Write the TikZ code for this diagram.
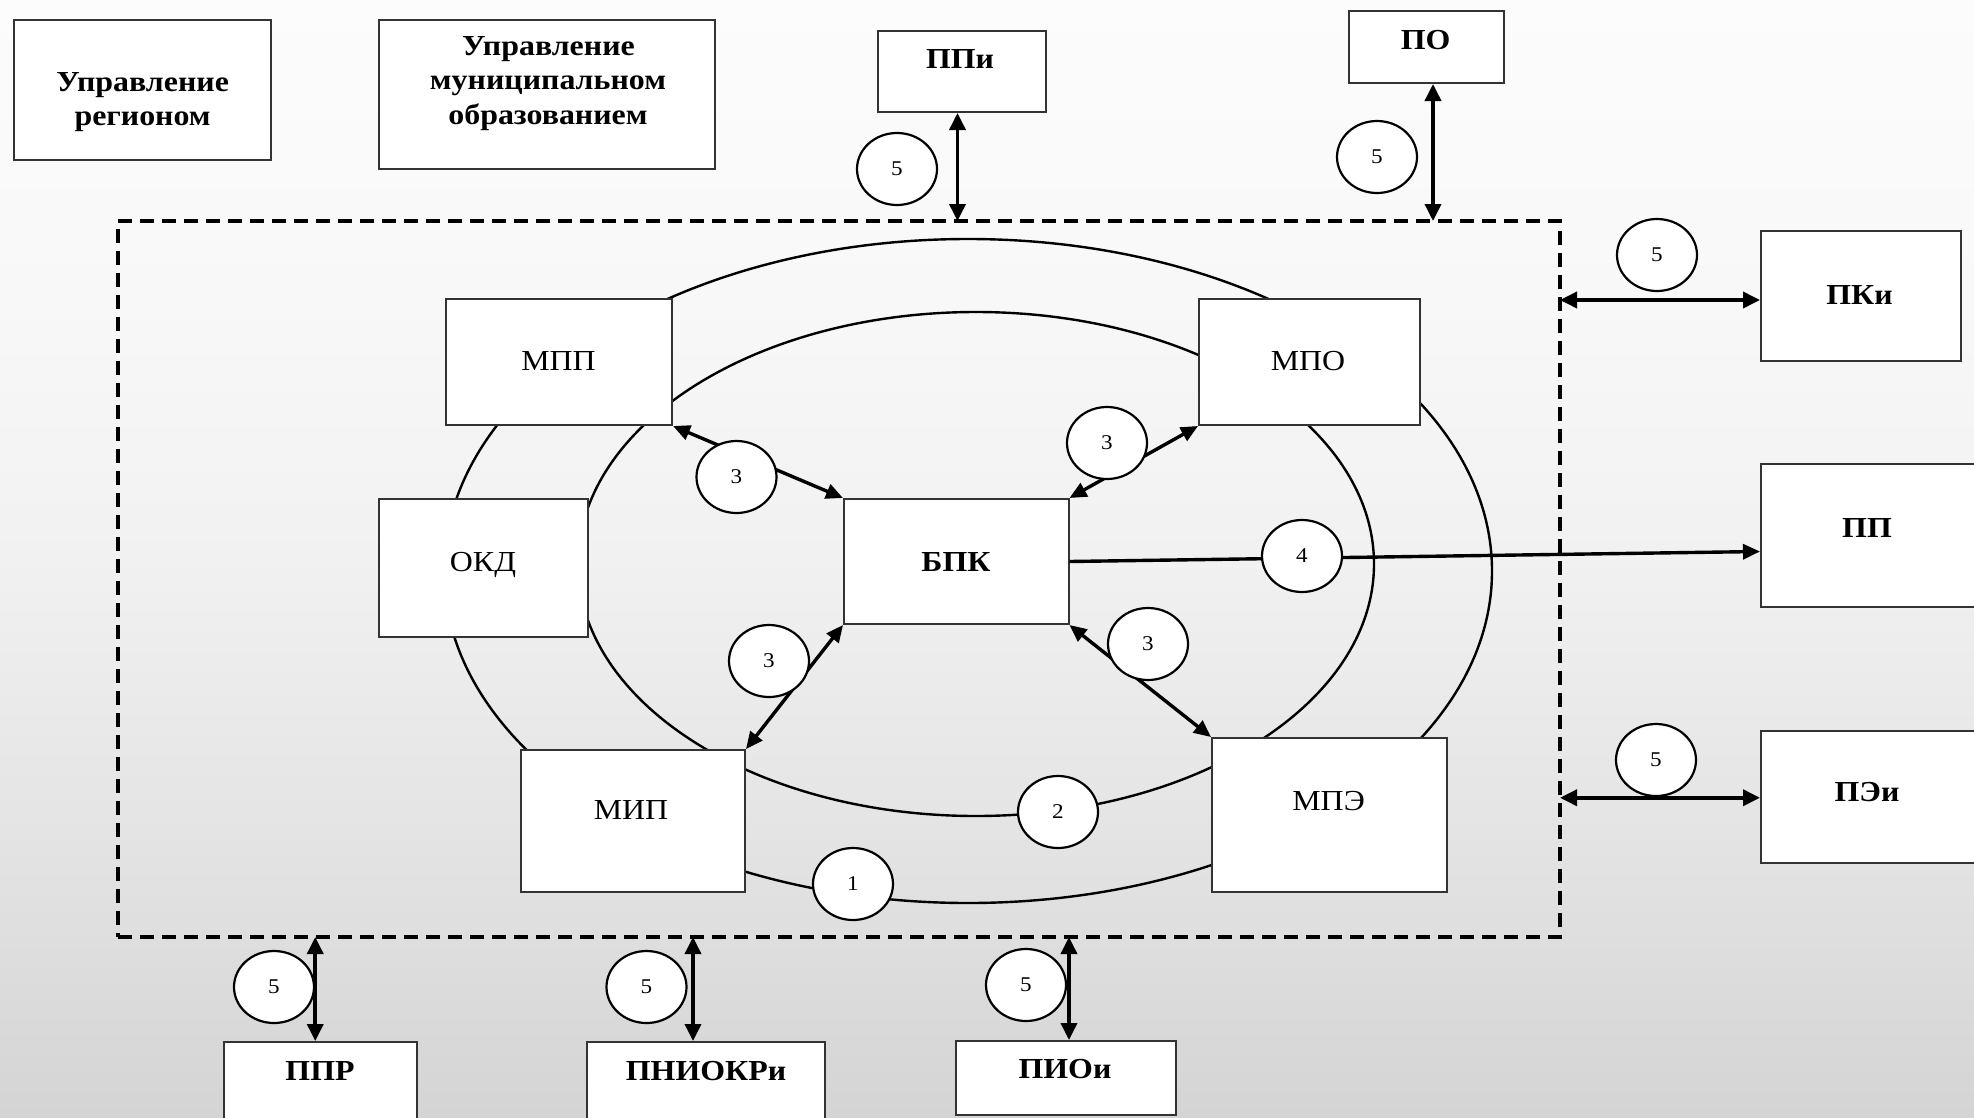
\documentclass[tikz,border=0pt]{standalone}
\usepackage{fontspec}
\setmainfont{Liberation Serif}[FakeStretch=1.1]
\usetikzlibrary{arrows.meta,shapes.geometric}
\definecolor{bgA}{HTML}{D4D4D4}
\definecolor{bgB}{HTML}{E3E3E3}
\definecolor{bgC}{HTML}{F1F1F1}
\definecolor{bgD}{HTML}{F8F8F8}
\definecolor{bgE}{HTML}{FCFCFC}
\definecolor{boxline}{HTML}{333333}
\pgfdeclareverticalshading{bgshade}{100bp}{color(0bp)=(bgA); color(25bp)=(bgA); color(37bp)=(bgB); color(50bp)=(bgC); color(61.6bp)=(bgD); color(75bp)=(bgE); color(100bp)=(bgE)}
\begin{document}
\begin{tikzpicture}[x=1pt,y=-1pt,
  box/.style={rectangle, draw=boxline, line width=2pt, fill=white, inner sep=0pt},
  lbl/.style={inner sep=0pt, anchor=base, font=\fontsize{29}{34}\selectfont},
  blbl/.style={inner sep=0pt, anchor=base, font=\fontsize{29}{34}\selectfont\bfseries},
  num/.style={ellipse, draw=black, line width=2.2pt, fill=white, minimum width=80pt, minimum height=72pt, inner sep=0pt, font=\fontsize{21}{24}\selectfont},
  ring/.style={ellipse, draw=black, line width=2.4pt, inner sep=0pt},
  a5/.style={line width=3.6pt, {Triangle[length=17pt,width=16pt]}-{Triangle[length=17pt,width=16pt]}},
  a3/.style={line width=3.4pt, {Triangle[length=17pt,width=15pt]}-{Triangle[length=17pt,width=15pt]}},
  a4/.style={line width=3.4pt, -{Triangle[length=17pt,width=15pt]}},
  sysbox/.style={rectangle, draw=black, line width=4pt, dash pattern=on 14pt off 8pt, inner sep=0pt, outer sep=0pt}]

\useasboundingbox (0,0) rectangle (1974,1117);
\shade[shading=bgshade] (0,0) rectangle (1974,1117);

% dashed system boundary
\node[sysbox, minimum width=1442pt, minimum height=716pt] (sys) at (839,579) {};

% rings
\node[ring, minimum width=1048pt, minimum height=664pt] (ringout) at (968,571) {};
\node[ring, minimum width=796pt, minimum height=504pt] (ringin) at (976,564) {};

% boxes
\node[box, minimum width=257pt, minimum height=140pt] (ur) at (142.5,90) {};
\node[box, minimum width=336pt, minimum height=149pt] (umo) at (547,94.5) {};
\node[box, minimum width=168pt, minimum height=81pt] (ppi) at (962,71.5) {};
\node[box, minimum width=155pt, minimum height=72pt] (po) at (1426.5,47) {};
\node[box, minimum width=200pt, minimum height=130pt] (pki) at (1861,296) {};
\node[box, minimum width=239pt, minimum height=143pt] (pp) at (1880.5,535.5) {};
\node[box, minimum width=239pt, minimum height=131.5pt] (pei) at (1880.5,796.75) {};
\node[box, minimum width=226pt, minimum height=126pt] (mpp) at (559,362) {};
\node[box, minimum width=221pt, minimum height=126pt] (mpo) at (1309.5,362) {};
\node[box, minimum width=208.5pt, minimum height=137.7pt] (okd) at (483.25,567.85) {};
\node[box, minimum width=224.5pt, minimum height=125pt] (bpk) at (956.25,561.5) {};
\node[box, minimum width=224pt, minimum height=142pt] (mip) at (633,821) {};
\node[box, minimum width=235pt, minimum height=154pt] (mpe) at (1329.5,815) {};
\node[box, minimum width=193.5pt, minimum height=98pt] (ppr) at (320.25,1091) {};
\node[box, minimum width=238pt, minimum height=98pt] (pniokr) at (706,1091) {};
\node[box, minimum width=220pt, minimum height=74pt] (pioi) at (1066,1078) {};

% labels
\node[blbl] (ur-a) at (142.6,91) {Управление};
\node[blbl] (ur-b) at (142.6,125) {регионом};
\node[blbl] (umo-a) at (548.5,55) {Управление};
\node[blbl] (umo-b) at (548,89) {муниципальном};
\node[blbl] (umo-c) at (548,124) {образованием};
\node[blbl] (ppi-t) at (960,68) {ППи};
\node[blbl] (po-t) at (1425.6,49) {ПО};
\node[blbl] (pki-t) at (1859.5,304) {ПКи};
\node[blbl] (pp-t) at (1867,537) {ПП};
\node[blbl] (pei-t) at (1867,801.5) {ПЭи};
\node[lbl] (mpp-t) at (558.5,370) {МПП};
\node[lbl] (mpo-t) at (1308,370) {МПО};
\node[lbl] (okd-t) at (483,571.5) {ОКД};
\node[blbl] (bpk-t) at (956,571.5) {БПК};
\node[lbl] (mip-t) at (631,819) {МИП};
\node[lbl] (mpe-t) at (1328.6,810) {МПЭ};
\node[blbl] (ppr-t) at (320,1080) {ППР};
\node[blbl] (pniokr-t) at (706,1080) {ПНИОКРи};
\node[blbl] (pioi-t) at (1065,1078) {ПИОи};

% arrows 3 (BPK <-> modules)
\draw[a3] (mpp.south east) -- (bpk.north west);
\draw[a3] (bpk.north east) -- (mpo.south west);
\draw[a3] (bpk.south west) -- (mip.north east);
\draw[a3] (bpk.south east) -- (mpe.north west);
% arrow 4
\draw[a4] (bpk.east) -- ([yshift=-16pt]pp.west);

% arrows 5 (environment <-> system)
\coordinate (ppiA) at ([xshift=-4.5pt]ppi.south);
\draw[a5] (ppiA) -- (ppiA |- sys.north);
\coordinate (poA) at ([xshift=6.5pt]po.south);
\draw[a5] (poA) -- (poA |- sys.north);
\coordinate (pkiA) at ([yshift=-4pt]pki.west);
\draw[a5] (sys.east |- pkiA) -- (pkiA);
\coordinate (peiA) at ([yshift=-1pt]pei.west);
\draw[a5] (sys.east |- peiA) -- (peiA);
\coordinate (pprA) at ([xshift=-5pt]ppr.north);
\draw[a5] (pprA |- sys.south) -- (pprA);
\coordinate (pnA) at ([xshift=-13pt]pniokr.north);
\draw[a5] (pnA |- sys.south) -- (pnA);
\coordinate (pioA) at ([xshift=3pt]pioi.north);
\draw[a5] (pioA |- sys.south) -- (pioA);

% numbered circles
\node[num] (n5a) at (897,169) {5};
\node[num] (n5b) at (1377,157) {5};
\node[num] (n5c) at (1657,255) {5};
\node[num] (n5d) at (1656,760) {5};
\node[num] (n5e) at (274,987) {5};
\node[num] (n5f) at (646.5,987) {5};
\node[num] (n5g) at (1026,985) {5};
\node[num] (n3a) at (736.5,477) {3};
\node[num] (n3b) at (1107,443) {3};
\node[num] (n3c) at (769,661) {3};
\node[num] (n3d) at (1148,644) {3};
\node[num] (n4) at (1302,556) {4};
\node[num] (n2) at (1058,812) {2};
\node[num] (n1) at (853,884) {1};
\end{tikzpicture}
\end{document}
